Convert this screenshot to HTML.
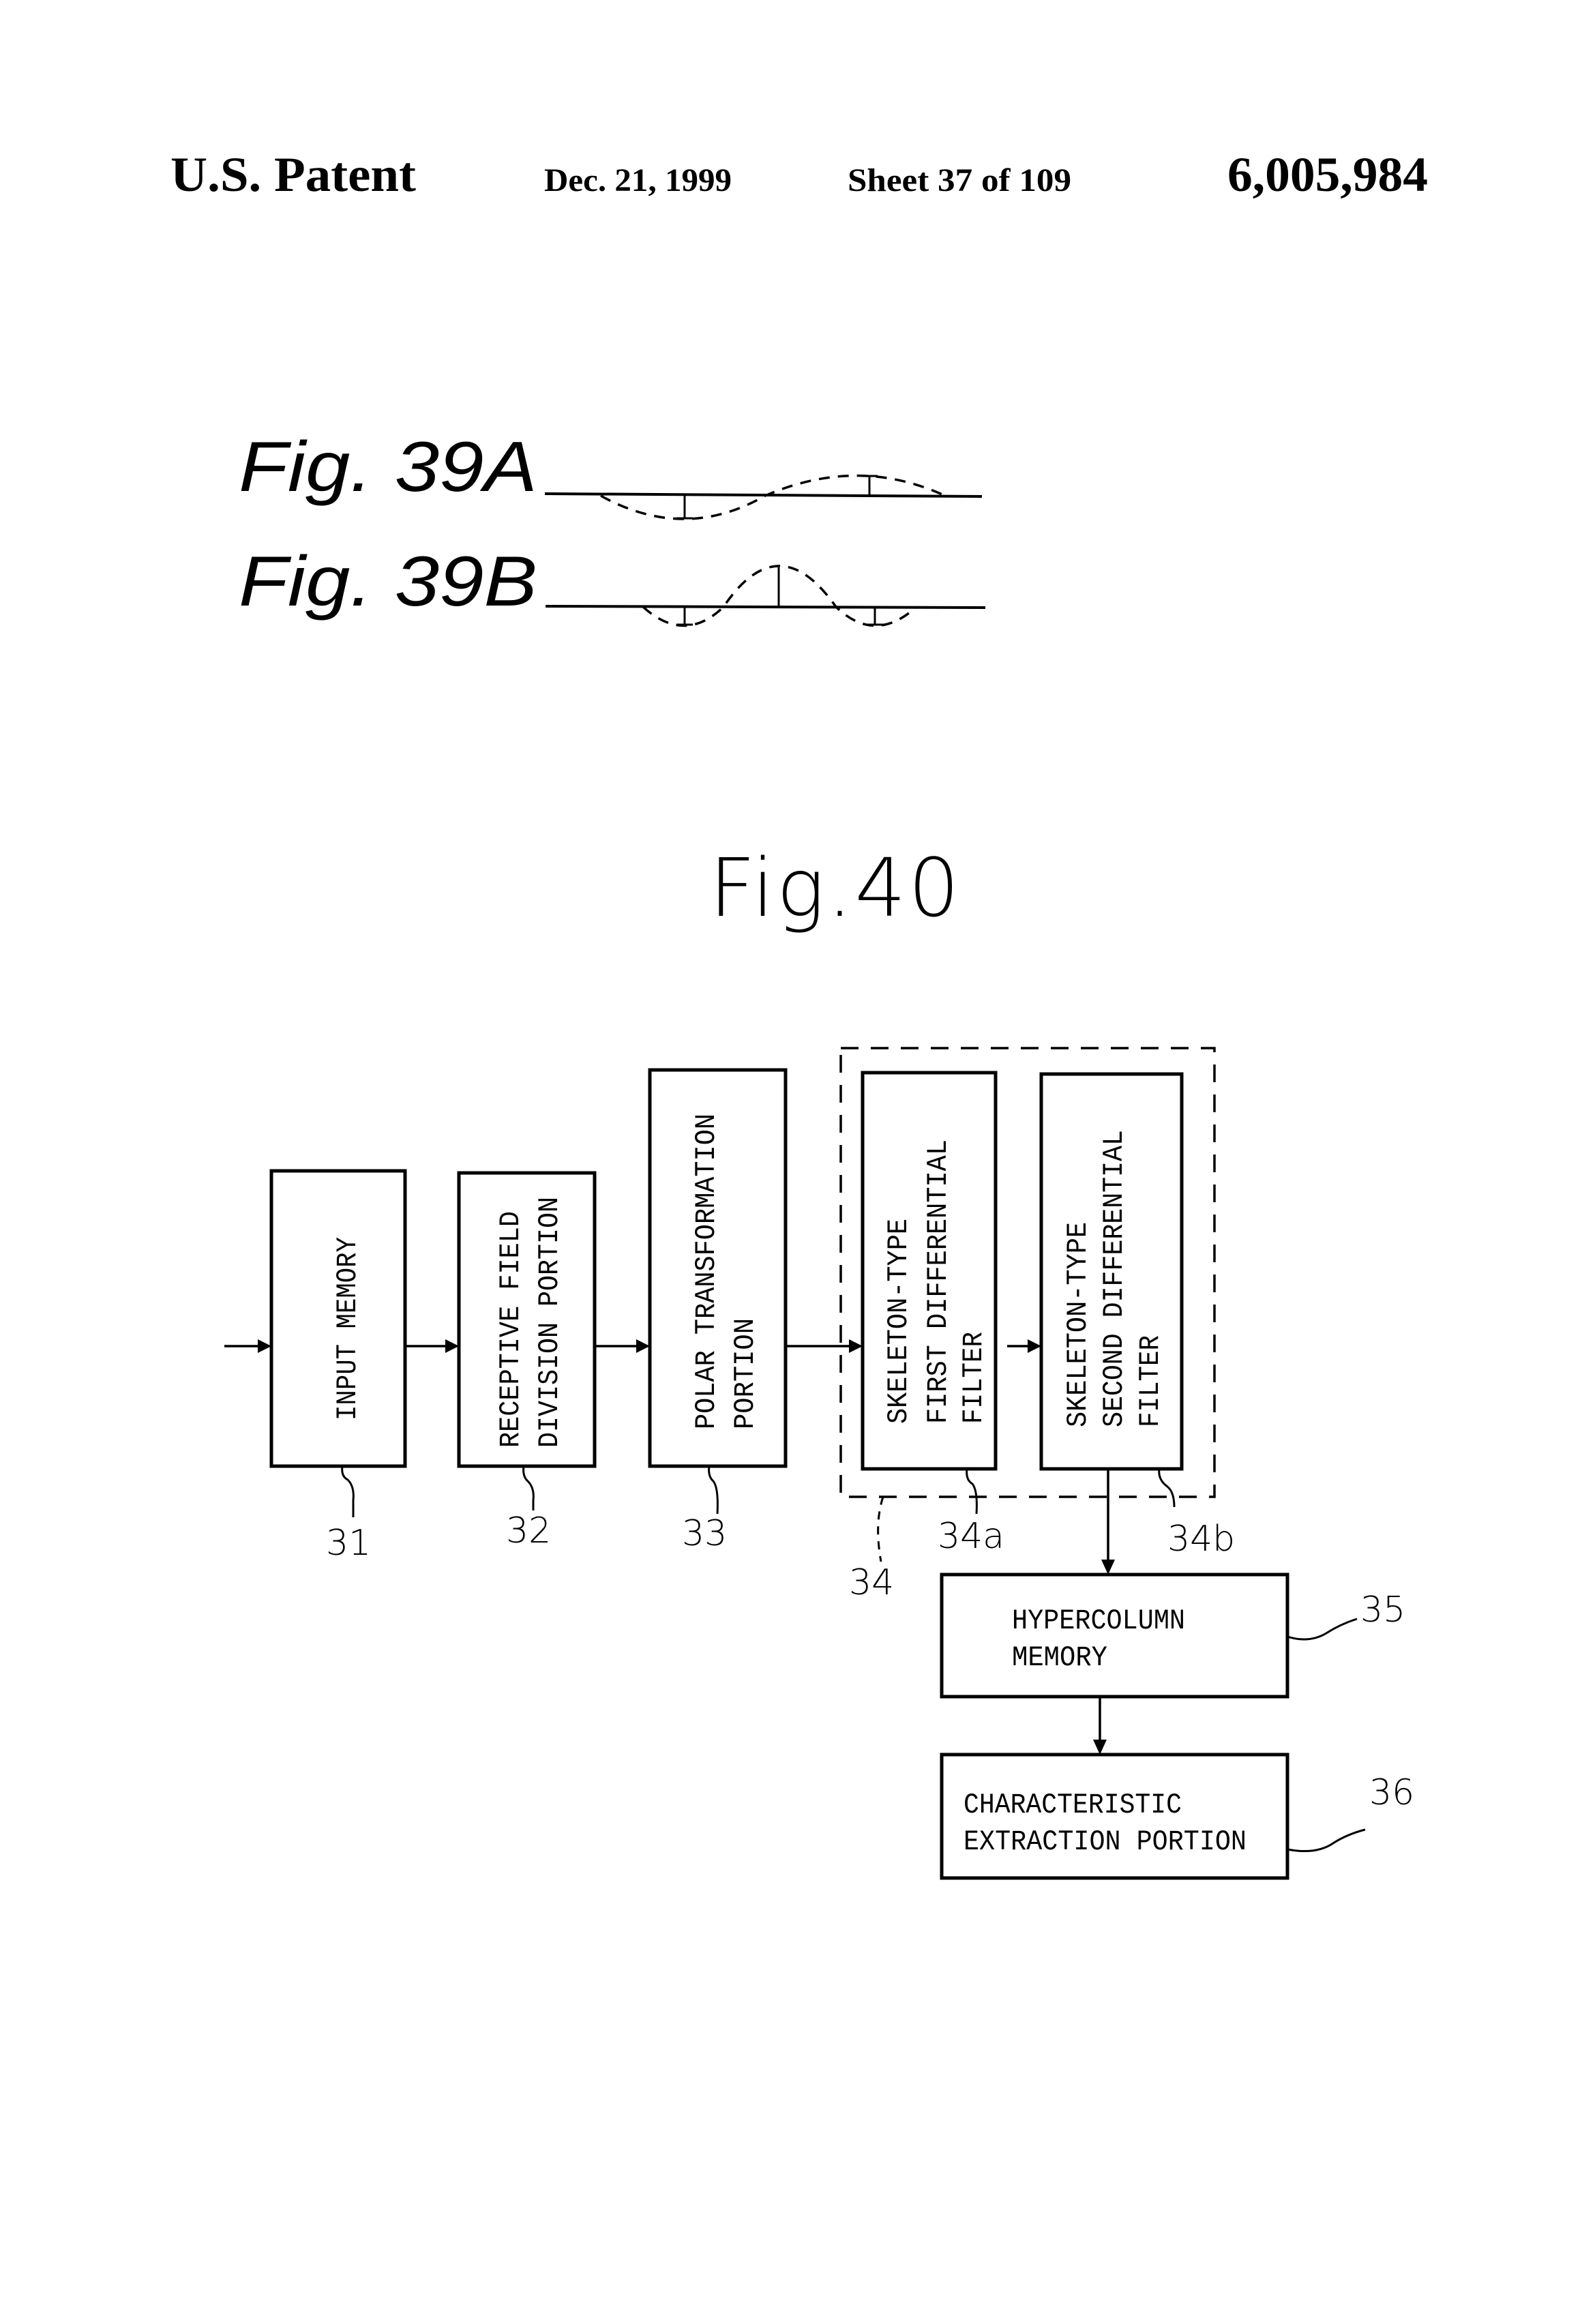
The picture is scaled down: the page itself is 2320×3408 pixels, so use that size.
<!DOCTYPE html>
<html><head><meta charset="utf-8"><style>
html,body{margin:0;padding:0;background:#fff}
svg{display:block}
</style></head><body>
<svg width="2320" height="3408" viewBox="0 0 2320 3408" xmlns="http://www.w3.org/2000/svg">
<rect width="2320" height="3408" fill="#fff"/>
<g font-family="Liberation Serif, serif" font-weight="bold" fill="#000">
<text x="250" y="280" font-size="72" textLength="360" lengthAdjust="spacingAndGlyphs">U.S. Patent</text>
<text x="798" y="280" font-size="48" textLength="275" lengthAdjust="spacingAndGlyphs">Dec. 21, 1999</text>
<text x="1243" y="280" font-size="48" textLength="328" lengthAdjust="spacingAndGlyphs">Sheet 37 of 109</text>
<text x="1800" y="280" font-size="72" textLength="294" lengthAdjust="spacingAndGlyphs">6,005,984</text>
</g>
<g font-family="Liberation Sans, sans-serif" font-style="italic" fill="#000">
<text x="350" y="720" font-size="104" textLength="438" lengthAdjust="spacingAndGlyphs">Fig. 39A</text>
<text x="350" y="888" font-size="104" textLength="438" lengthAdjust="spacingAndGlyphs">Fig. 39B</text>
</g>
<g stroke="#000" fill="none">
<line x1="799" y1="724" x2="1440" y2="728" stroke-width="4"/>
<path d="M881 727 Q1004 795 1122 727 Q1258 668 1386 727" stroke-width="3.5" stroke-dasharray="16 12"/>
<line x1="1004" y1="727" x2="1004" y2="760" stroke-width="3"/><line x1="992" y1="760" x2="1016" y2="760" stroke-width="3"/>
<line x1="1275" y1="698" x2="1275" y2="727" stroke-width="3"/><line x1="1263" y1="698" x2="1287" y2="698" stroke-width="3"/>
<line x1="800" y1="889" x2="1445" y2="891" stroke-width="4"/>
<path d="M943 890 Q1004 945 1061 890 Q1142 770 1226 890 Q1283 945 1344 890" stroke-width="3.5" stroke-dasharray="16 12"/>
<line x1="1004" y1="890" x2="1004" y2="916" stroke-width="3"/><line x1="992" y1="916" x2="1016" y2="916" stroke-width="3"/>
<line x1="1142" y1="832" x2="1142" y2="890" stroke-width="3"/>
<line x1="1283" y1="890" x2="1283" y2="916" stroke-width="3"/><line x1="1271" y1="916" x2="1295" y2="916" stroke-width="3"/>
</g>
<text x="1040" y="1343" font-family="DejaVu Sans, sans-serif" font-size="118" font-weight="200" textLength="367" lengthAdjust="spacing" fill="#000">Fig.40</text>
<g stroke="#000" stroke-width="5" fill="none">
<rect x="398" y="1717" width="196" height="433"/>
<rect x="673" y="1720" width="199" height="430"/>
<rect x="953" y="1569" width="199" height="581"/>
<rect x="1265" y="1573" width="195" height="581"/>
<rect x="1527" y="1575" width="206" height="579"/>
<rect x="1381" y="2309" width="507" height="179"/>
<rect x="1381" y="2573" width="507" height="181"/>
</g>
<rect x="1233" y="1537" width="548" height="658" stroke="#000" stroke-width="3.5" fill="none" stroke-dasharray="26 18"/>
<g stroke="#000" stroke-width="3.5">
<line x1="329" y1="1974" x2="380" y2="1974"/>
<line x1="594" y1="1974" x2="655" y2="1974"/>
<line x1="872" y1="1974" x2="935" y2="1974"/>
<line x1="1152" y1="1974" x2="1247" y2="1974"/>
<line x1="1477" y1="1974" x2="1509" y2="1974"/>
<line x1="1625" y1="2154" x2="1625" y2="2290"/>
<line x1="1613" y1="2488" x2="1613" y2="2555"/>
</g>
<g fill="#000">
<polygon points="398,1974 378,1964 378,1984"/>
<polygon points="673,1974 653,1964 653,1984"/>
<polygon points="953,1974 933,1964 933,1984"/>
<polygon points="1265,1974 1245,1964 1245,1984"/>
<polygon points="1527,1974 1507,1964 1507,1984"/>
<polygon points="1625,2309 1615,2287 1635,2287"/>
<polygon points="1613,2573 1603,2551 1623,2551"/>
</g>
<g font-family="Liberation Mono, monospace" font-size="42" fill="#000">
<text transform="translate(521,2083) rotate(-90)" textLength="269" lengthAdjust="spacingAndGlyphs">INPUT MEMORY</text>
<text transform="translate(760,2123) rotate(-90)" textLength="347" lengthAdjust="spacingAndGlyphs">RECEPTIVE FIELD</text>
<text transform="translate(817,2123) rotate(-90)" textLength="368" lengthAdjust="spacingAndGlyphs">DIVISION PORTION</text>
<text transform="translate(1047,2096) rotate(-90)" textLength="463" lengthAdjust="spacingAndGlyphs">POLAR TRANSFORMATION</text>
<text transform="translate(1104,2096) rotate(-90)" textLength="163" lengthAdjust="spacingAndGlyphs">PORTION</text>
<text transform="translate(1329,2088) rotate(-90)" textLength="301" lengthAdjust="spacingAndGlyphs">SKELETON-TYPE</text>
<text transform="translate(1387,2088) rotate(-90)" textLength="417" lengthAdjust="spacingAndGlyphs">FIRST DIFFERENTIAL</text>
<text transform="translate(1439,2088) rotate(-90)" textLength="135" lengthAdjust="spacingAndGlyphs">FILTER</text>
<text transform="translate(1592,2093) rotate(-90)" textLength="301" lengthAdjust="spacingAndGlyphs">SKELETON-TYPE</text>
<text transform="translate(1645,2093) rotate(-90)" textLength="436" lengthAdjust="spacingAndGlyphs">SECOND DIFFERENTIAL</text>
<text transform="translate(1698,2093) rotate(-90)" textLength="135" lengthAdjust="spacingAndGlyphs">FILTER</text>
<text x="1484" y="2388" textLength="254" lengthAdjust="spacingAndGlyphs">HYPERCOLUMN</text>
<text x="1484" y="2442" textLength="140" lengthAdjust="spacingAndGlyphs">MEMORY</text>
<text x="1413" y="2658" textLength="320" lengthAdjust="spacingAndGlyphs">CHARACTERISTIC</text>
<text x="1413" y="2712" textLength="415" lengthAdjust="spacingAndGlyphs">EXTRACTION PORTION</text>
</g>
<g font-family="DejaVu Sans, sans-serif" font-size="52" font-weight="200" fill="#000">
<text x="478" y="2280">31</text>
<text x="742" y="2262">32</text>
<text x="1000" y="2266">33</text>
<text x="1375" y="2270">34a</text>
<text x="1712" y="2274">34b</text>
<text x="1245" y="2338">34</text>
<text x="1995" y="2378">35</text>
<text x="2008" y="2646">36</text>
</g>
<g stroke="#000" stroke-width="3" fill="none">
<path d="M502 2150 Q500 2165 510 2170 Q520 2180 518 2200 L518 2225"/>
<path d="M768 2150 Q766 2165 774 2172 Q784 2182 782 2200 L782 2215"/>
<path d="M1040 2150 Q1038 2165 1046 2172 Q1054 2182 1052 2220"/>
<path d="M1418 2154 Q1416 2170 1426 2176 Q1434 2186 1432 2220"/>
<path d="M1700 2154 Q1698 2170 1712 2180 Q1722 2188 1722 2210"/>
<path d="M1888 2400 Q1920 2410 1945 2395 Q1965 2382 1990 2374"/>
<path d="M1888 2712 Q1930 2720 1955 2703 Q1975 2690 2002 2683"/>
<path d="M1295 2195 Q1282 2235 1292 2290" stroke-dasharray="12 10"/>
</g>
</svg>
</body></html>
